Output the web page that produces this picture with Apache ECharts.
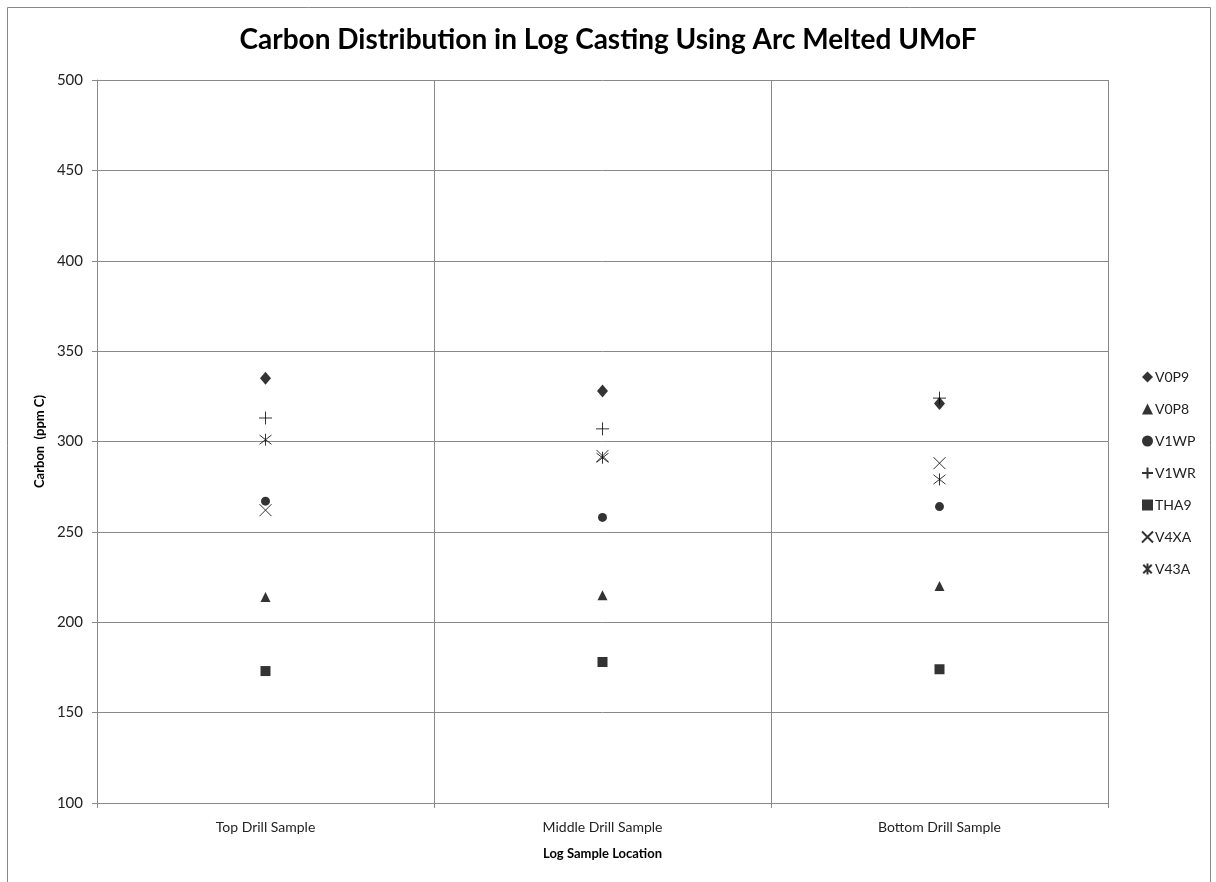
<!DOCTYPE html>
<html>
<head>
<meta charset="utf-8">
<script src="https://cdn.jsdelivr.net/npm/echarts@6/dist/echarts.min.js"></script>
<style>html,body{margin:0;padding:0;background:#fff}#c{width:1216px;height:882px}</style>
</head>
<body>
<div id="c"></div>
<script>
const categories = ['Top Drill Sample', 'Middle Drill Sample', 'Bottom Drill Sample'];
const V0P9 = [335, 328, 321];
const V0P8 = [214, 215, 220];
const V1WP = [267, 258, 264];
const V1WR = [313, 307, 324];
const THA9 = [173, 178, 174];
const V4XA = [262, 292, 288];
const V43A = [301, 291, 279];
const yTicks = [100, 150, 200, 250, 300, 350, 400, 450, 500];

const FONT = 'Lato, "Open Sans", sans-serif';
const PLUS = 'path://M5,0L5,10M0,5L10,5';
const CROSS = 'path://M0,0L10,10M10,0L0,10';
const STAR = 'path://M0,0L10,10M10,0L0,10M5,-1.5L5,11.5';

function filled(name, data, symbol, size) {
  return { name, type: 'scatter', data, symbol, symbolSize: size,
    itemStyle: { color: '#000' } };
}
function stroked(name, data, symbol, size) {
  return { name, type: 'scatter', data, symbol, symbolSize: size,
    itemStyle: { color: 'rgba(0,0,0,0)', borderColor: '#000', borderWidth: 1 } };
}

const chart = echarts.init(document.getElementById('c'));
chart.setOption({
  animation: false,
  backgroundColor: '#fff',
  textStyle: { fontFamily: FONT },
  title: {
    text: 'Carbon Distribution in Log Casting Using Arc Melted UMoF',
    left: 'center', top: 21,
    textStyle: { fontFamily: FONT, fontSize: 28, fontWeight: 'bold', color: '#000' }
  },
  graphic: [{ type: 'rect', shape: { x: 7.5, y: 7.5, width: 1203, height: 900 },
    style: { fill: 'none', stroke: '#888', lineWidth: 1 }, silent: true }],
  legend: {
    orient: 'vertical', left: 1136, top: 365, itemWidth: 11, itemHeight: 11, itemGap: 18,
    textStyle: { fontFamily: FONT, fontSize: 14, lineHeight: 14, color: '#222', padding: [0, 0, 0, -3] },
    data: ['V0P9', 'V0P8', 'V1WP', 'V1WR', 'THA9', 'V4XA', 'V43A']
  },
  grid: { left: 97, right: 108, top: 80, bottom: 79, containLabel: false },
  xAxis: {
    type: 'category', data: categories, boundaryGap: true,
    name: 'Log Sample Location', nameLocation: 'middle', nameGap: 44,
    nameTextStyle: { fontFamily: FONT, fontSize: 13, fontWeight: 'bold', color: '#000' },
    axisLine: { lineStyle: { color: '#888' } },
    axisTick: { show: true, length: 5, lineStyle: { color: '#888' } },
    axisLabel: { fontFamily: FONT, fontSize: 14, color: '#222', margin: 17 },
    splitLine: { show: true, lineStyle: { color: '#888' } }
  },
  yAxis: {
    type: 'value', min: 100, max: 500, interval: 50,
    name: 'Carbon  (ppm C)', nameLocation: 'middle', nameGap: 50, nameRotate: 90,
    nameTextStyle: { fontFamily: FONT, fontSize: 13, fontWeight: 'bold', color: '#000' },
    axisLine: { show: true, lineStyle: { color: '#888' } },
    axisTick: { show: true, length: 5, lineStyle: { color: '#888' } },
    axisLabel: { fontFamily: FONT, fontSize: 15, color: '#222', margin: 14,
      formatter: v => yTicks.includes(v) ? String(v) : '' },
    splitLine: { show: true, lineStyle: { color: '#888' } }
  },
  series: [
    filled('V0P9', V0P9, 'diamond', [11, 13]),
    filled('V0P8', V0P8, 'triangle', 10),
    filled('V1WP', V1WP, 'circle', 9),
    stroked('V1WR', V1WR, PLUS, 13),
    filled('THA9', THA9, 'rect', 10),
    stroked('V4XA', V4XA, CROSS, 12),
    stroked('V43A', V43A, STAR, 12)
  ]
});
</script>
</body>
</html>
